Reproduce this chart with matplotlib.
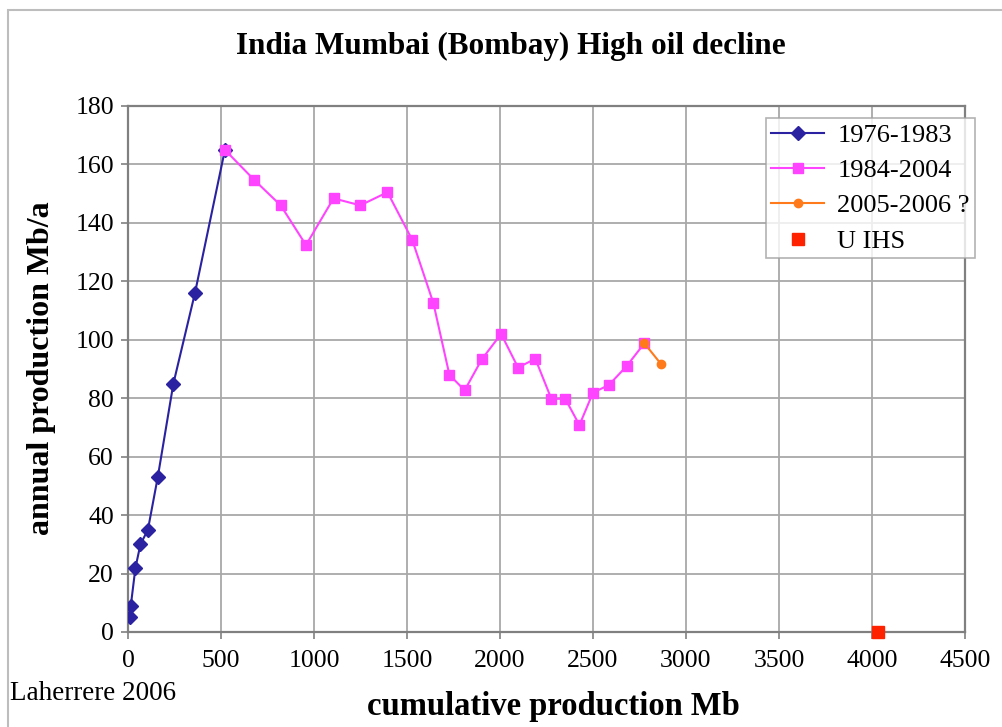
import matplotlib
matplotlib.use("Agg")
import matplotlib.pyplot as plt
from matplotlib.patches import Rectangle

# ---- data ----
cum_1976_1983 = [10, 15, 40, 67, 107, 160, 244, 360, 521]
prod_1976_1983 = [5, 9, 22, 30, 35, 53, 85, 116, 165]

cum_1984_2004 = [521, 677, 821, 957, 1105, 1249, 1395, 1528, 1642, 1728, 1810,
                 1902, 2006, 2097, 2190, 2276, 2351, 2427, 2500, 2585, 2681, 2776]
prod_1984_2004 = [165, 154.8, 146, 132.4, 148.4, 146, 150.5, 134.2, 112.5, 88, 82.7,
                  93.3, 102, 90.5, 93.5, 79.8, 79.8, 70.8, 81.9, 84.5, 91, 98.8]

cum_2005_2006 = [2776, 2867]
prod_2005_2006 = [98.8, 91.6]

cum_u_ihs = [4030]
prod_u_ihs = [0]

x_ticks = [0, 500, 1000, 1500, 2000, 2500, 3000, 3500, 4000, 4500]
y_ticks = [0, 20, 40, 60, 80, 100, 120, 140, 160, 180]

title = "India Mumbai (Bombay) High oil decline"
xlabel = "cumulative production Mb"
ylabel = "annual production Mb/a"
credit = "Laherrere 2006"

plt.rcParams['font.family'] = ['Liberation Serif', 'DejaVu Serif']

fig = plt.figure(figsize=(10.03, 7.27), dpi=100)
ax = fig.add_axes([128/1003, 1-632/727, (965-128)/1003, (632-106)/727])

# outer chart border
fig.patches.append(Rectangle((8/1003, -0.01), 1.0, 1-10/727+0.01, transform=fig.transFigure,
                             fill=False, edgecolor='#BDBDBD', linewidth=1.5))

ax.plot(cum_1976_1983, prod_1976_1983, color='#2A22A0', marker='D', markersize=7.5,
        linewidth=1.5, label='1976-1983', zorder=3)
ax.plot(cum_1984_2004, prod_1984_2004, color='#FF44FF', marker='s', markersize=7,
        linewidth=1.5, label='1984-2004', zorder=3)
ax.plot(cum_2005_2006, prod_2005_2006, color='#FF7A1A', marker='o', markersize=6,
        linewidth=1.5, label='2005-2006 ?', zorder=4)
ax.plot(cum_u_ihs, prod_u_ihs, color='#FF2200', marker='s', markersize=9,
        linestyle='none', label='U IHS', zorder=5, clip_on=False)

ax.set_xlim(0, 4500)
ax.set_ylim(0, 180)
ax.set_xticks(x_ticks)
ax.set_yticks(y_ticks)
ax.tick_params(axis='both', labelsize=18.5, length=5, color='#808080', width=1.2,
               direction='out', pad=5)
ax.tick_params(axis='x', pad=8)
ax.grid(True, color='#A8A8A8', linewidth=1.3)
ax.set_axisbelow(True)
for s in ax.spines.values():
    s.set_color('#808080')
    s.set_linewidth(1.6)

fig.text(511/1003, 1-46/727, title, ha='center', va='center', fontsize=22.5, fontweight='bold')
fig.text(553/1003, 1-707/727, xlabel, ha='center', va='center', fontsize=23.5, fontweight='bold')
fig.text(42/1003, 1-368/727, ylabel, ha='center', va='center', fontsize=23,
         fontweight='bold', rotation=90)
fig.text(10/1003, 1-693/727, credit, ha='left', va='center', fontsize=19.5)

leg = ax.legend(loc='upper left', bbox_to_anchor=((766-128)/837, (632-118)/526),
                fontsize=19, frameon=True, fancybox=False, borderpad=0.2,
                labelspacing=0.45, handlelength=2.0, handletextpad=0.5,
                borderaxespad=0)
leg.get_frame().set_edgecolor('#A0A0A0')
leg.get_frame().set_linewidth(1.2)

fig.savefig('out.png', dpi=100)
